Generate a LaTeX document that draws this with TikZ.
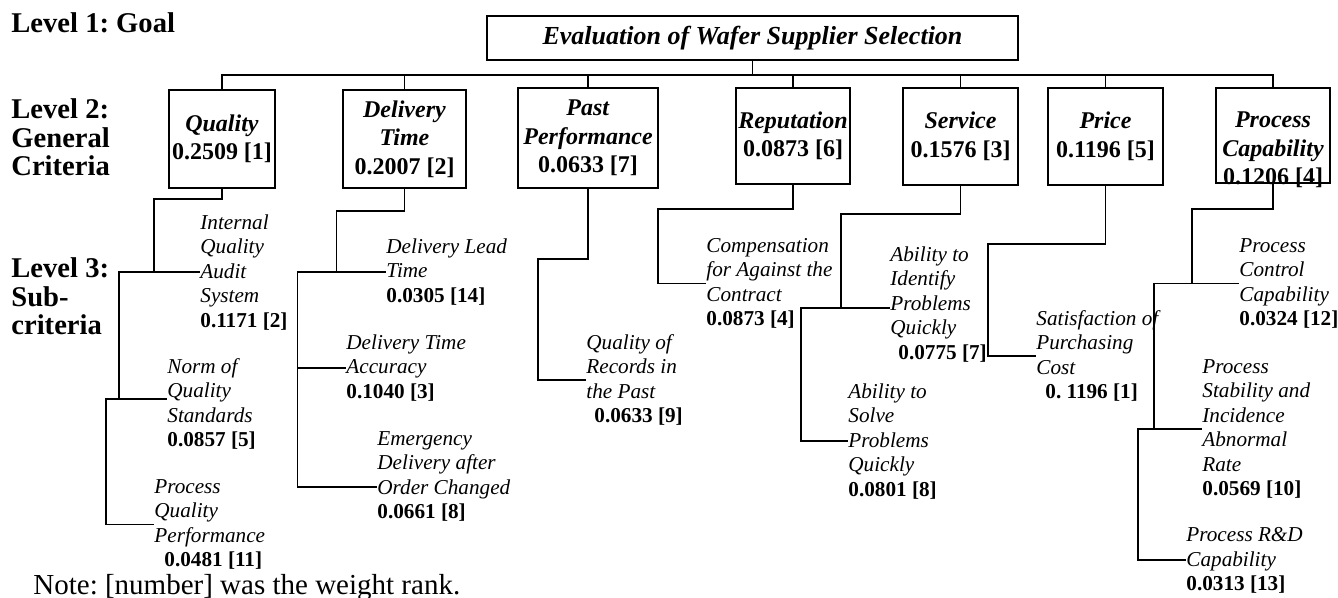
\documentclass[tikz,border=0pt]{standalone}
\usepackage{fontspec}
\setmainfont{Liberation Serif}
\usepackage{tikz}
\frenchspacing
\newcommand{\wt}[1]{\textup{\textbf{#1}}}

\begin{document}
\begin{tikzpicture}[x=0.5pt, y=-0.5pt,
	link/.style={line width=0.9pt},
	goalbox/.style={draw, line width=0.9pt, inner sep=0pt, minimum width=265.5pt, minimum height=22pt, font=\fontsize{13}{15}\selectfont\bfseries\itshape},
	crit/.style 2 args={draw, line width=0.9pt, inner xsep=1pt, inner ysep=0pt, minimum width=#1, minimum height=#2, align=center, font=\fontsize{12}{14.25}\selectfont\bfseries},
	sub/.style={anchor=north west, inner sep=0pt, align=left, font=\fontsize{10.6}{12.25}\selectfont\itshape},
	lvl/.style={anchor=north west, inner sep=0pt, align=left, font=\fontsize{14.3}{14.25}\selectfont\bfseries}]
		\useasboundingbox (0,0) rectangle (1338,598);
		
		\node[lvl] (lv1) at (11,12.5) {Level 1: Goal};
		\node[lvl] (lv2) at (11,98.5) {Level 2:\\General\\Criteria};
		\node[lvl] (lv3) at (11,257.5) {Level 3:\\Sub-\\criteria};
		\node[anchor=north west, inner sep=0pt, font=\fontsize{14.5}{16}\selectfont] (note) at (33,573.5) {Note: [number] was the weight rank.};
		
		\node[goalbox] (goal) at (752.5,38) {Evaluation of Wafer Supplier Selection};
		
		\node[crit={53pt}{49pt}] (qual) at (222,139) {\textit{Quality}\\0.2509 [1]};
		\node[crit={61.5pt}{49pt}] (deli) at (404.5,139) {\textit{Delivery}\\\textit{Time}\\0.2007 [2]};
		\node[crit={70pt}{50pt}] (past) at (588,138) {\textit{Past}\\\textit{Performance}\\0.0633 [7]};
		\node[crit={57pt}{48pt}] (repu) at (793,136) {\textit{Reputation}\\0.0873 [6]};
		\node[crit={57.5pt}{48.5pt}] (serv) at (960.5,136.5) {\textit{Service}\\0.1576 [3]};
		\node[crit={57.5pt}{48.5pt}] (pric) at (1105.5,136.5) {\textit{Price}\\0.1196 [5]};
		\node[crit={57pt}{47.5pt}] (proc) at (1273,135.5) {};
		\node[crit={57pt}{0pt}, draw=none, anchor=north] (proctxt) at (1273,111) {\textit{Process}\\\textit{Capability}\\0.1206 [4]};
		
		\foreach \c in {qual,deli,past,repu,serv,pric,proc}
			\draw[link] (goal.south) -- ++(0,14) -| (\c.north);
		
		\node[sub] (iqa) at (200,214) {Internal\\Quality\\Audit\\System\\\wt{0.1171 [2]}};
		\node[sub] (nqs) at (167,358) {Norm of\\Quality\\Standards\\\wt{0.0857 [5]}};
		\node[sub] (pqp) at (154,479) {Process\\Quality\\Performance\\\hspace*{5pt}\wt{0.0481 [11]}};
		\node[sub] (dlt) at (386,238) {Delivery Lead\\Time\\\wt{0.0305 [14]}};
		\node[sub] (dta) at (346,334) {Delivery Time\\Accuracy\\\wt{0.1040 [3]}};
		\node[sub] (edo) at (377,431) {Emergency\\Delivery after\\Order Changed\\\wt{0.0661 [8]}};
		\node[sub] (qrp) at (586,334) {Quality of\\Records in\\the Past\\\hspace*{4pt}\wt{0.0633 [9]}};
		\node[sub] (cac) at (706,238) {Compensation\\for Against the\\Contract\\\wt{0.0873 [4]}};
		\node[sub] (aip) at (890,246) {Ability to\\Identify\\Problems\\Quickly\\\hspace*{4pt}\wt{0.0775 [7]}};
		\node[sub] (asp) at (848,383) {Ability to\\Solve\\Problems\\Quickly\\\wt{0.0801 [8]}};
		\node[sub] (spc) at (1036,310) {Satisfaction of\\Purchasing\\Cost\\\hspace*{4.5pt}\wt{0. 1196 [1]}};
		\node[sub] (pcc) at (1239,238) {Process\\Control\\Capability\\\wt{0.0324 [12]}};
		\node[sub] (psi) at (1202,359) {Process\\Stability and\\Incidence\\Abnormal\\Rate\\\wt{0.0569 [10]}};
		\node[sub] (prd) at (1186,527) {Process R\&D\\Capability\\\wt{0.0313 [13]}};
		
		\coordinate (nqsin) at ([yshift=2.5pt]nqs.west);
		\coordinate (edoin) at ([yshift=-5.25pt]edo.west);
		\coordinate (aipin) at ([yshift=-2pt]aip.west);
		
		\draw[link] (qual.south) |- ++(-68,10) coordinate (q0) -- (q0 |- iqa.west) coordinate (q1) -- (iqa.west);
		\draw[link] (q1) -- ++(-35,0) coordinate (q2) -- (q2 |- nqsin) coordinate (q3) -- (nqsin);
		\draw[link] (q3) -- ++(-13,0) coordinate (q4) -- (q4 |- pqp.west) -- (pqp.west);
		
		\draw[link] (deli.south) |- ++(-68,22) coordinate (t0) -- (t0 |- dlt.west) coordinate (t1) -- (dlt.west);
		\draw[link] (t1) -- ++(-39,0) coordinate (t2) -- (t2 |- edoin) -- (edoin);
		\draw[link] (t2 |- dta.west) -- (dta.west);
		
		\draw[link] (past.south) |- ++(-50,70) coordinate (p0) -- (p0 |- qrp.west) -- (qrp.west);
		
		\draw[link] (repu.south) |- ++(-135,24) coordinate (r0) -- (r0 |- cac.west) -- (cac.west);
		
		\draw[link] (serv.south) |- ++(-119.5,28) coordinate (s0) -- (s0 |- aipin) coordinate (s1) -- (aipin);
		\draw[link] (s1) -- ++(-40,0) coordinate (s2) -- (s2 |- asp.west) -- (asp.west);
		
		\draw[link] (pric.south) |- ++(-117.5,58) coordinate (c0) -- (c0 |- spc.west) -- (spc.west);
		
		\draw[link] (proc.south) |- ++(-81,25) coordinate (g0) -- (g0 |- pcc.west) coordinate (g1) -- (pcc.west);
		\draw[link] (g1) -- ++(-38,0) coordinate (g2) -- (g2 |- psi.west) coordinate (g3) -- (psi.west);
		\draw[link] (g3) -- ++(-16,0) coordinate (g4) -- (g4 |- prd.west) -- (prd.west);
\end{tikzpicture}
\end{document}
